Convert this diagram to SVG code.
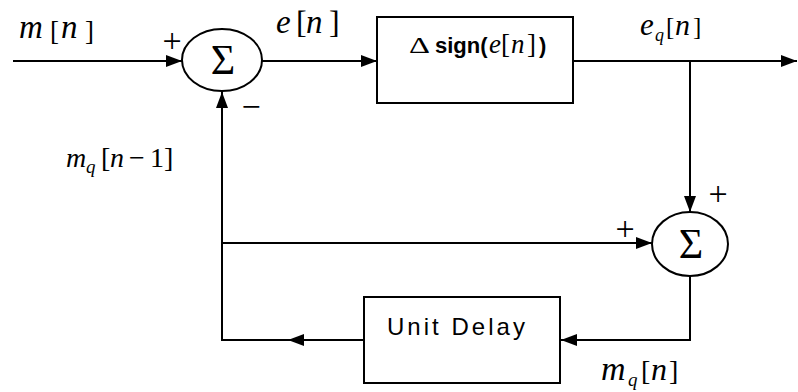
<svg xmlns="http://www.w3.org/2000/svg" width="798" height="392" viewBox="0 0 798 392">
<style>
.ln{stroke:#000;stroke-width:2;fill:none}
.bx{stroke:#000;stroke-width:2;fill:#fff}
text,tspan{fill:#000}
.s{font-family:'Liberation Serif','Times New Roman',serif}
.i{font-style:italic}
.sg{font-family:'Liberation Serif','Times New Roman',serif;font-size:42px}
.pm{font-family:'Liberation Serif','Times New Roman',serif;font-size:34px}
.sn{font-family:'Liberation Sans',Arial,sans-serif;font-size:22px;font-weight:bold}
.ud{font-family:'Liberation Sans',Arial,sans-serif;font-size:24px}
</style>
<defs>
<marker id="ar" viewBox="0 0 16 12" refX="16" refY="6" markerWidth="16" markerHeight="12" markerUnits="userSpaceOnUse" orient="auto">
<path d="M0,0 L16,6 L0,12 Z" fill="#000"/>
</marker>
</defs>
<g id="connectors">
<path class="ln" d="M13,61 H182" marker-end="url(#ar)"/>
<path class="ln" d="M262,61 H377" marker-end="url(#ar)"/>
<path class="ln" d="M573,61 H797" marker-end="url(#ar)"/>
<path class="ln" d="M690,61 V212" marker-end="url(#ar)"/>
<path class="ln" d="M222,243 H652" marker-end="url(#ar)"/>
<path class="ln" d="M690,276 V340 H561" marker-end="url(#ar)"/>
<path class="ln" d="M364,340 H288" marker-end="url(#ar)"/>
<path class="ln" d="M290,340 H222 V92" marker-end="url(#ar)"/>
</g>
<g id="sum1">
<ellipse class="bx" cx="222" cy="60" rx="40" ry="31"/>
<text class="sg" x="223" y="74" text-anchor="middle">Σ</text>
<text class="pm" x="172" y="52" text-anchor="middle">+</text>
<text class="pm" x="251" y="118" text-anchor="middle">−</text>
</g>
<g id="sign">
<rect class="bx" x="377" y="17" width="196" height="86"/>
<text y="53"><tspan class="s" x="409" font-size="23" textLength="21" lengthAdjust="spacingAndGlyphs">Δ</tspan><tspan class="sn" x="435">sign(</tspan><tspan class="s i" x="489" font-size="27">e</tspan><tspan class="s" x="501" font-size="27">[</tspan><tspan class="s i" x="511" font-size="27">n</tspan><tspan class="s" x="527" font-size="27">]</tspan><tspan class="sn" x="539">)</tspan></text>
</g>
<g id="sum2">
<ellipse class="bx" cx="690" cy="244" rx="38" ry="32"/>
<text class="sg" x="691" y="258" text-anchor="middle">Σ</text>
<text class="pm" x="718" y="205" text-anchor="middle">+</text>
<text class="pm" x="625" y="240" text-anchor="middle">+</text>
</g>
<g id="delay">
<rect class="bx" x="364" y="297" width="196" height="86"/>
<text class="ud" x="387" y="335" textLength="138">Unit Delay</text>
</g>
<g id="labels">
<text class="s"><tspan class="i" x="19" y="38" font-size="33">m</tspan><tspan x="50" y="40" font-size="27">[</tspan><tspan class="i" x="61" y="38" font-size="33">n</tspan><tspan x="85" y="40" font-size="27">]</tspan></text>
<text class="s"><tspan class="i" x="276" y="33" font-size="33">e</tspan><tspan x="296" y="33" font-size="32">[</tspan><tspan class="i" x="306" y="33" font-size="33">n</tspan><tspan x="329" y="33" font-size="32">]</tspan></text>
<text class="s"><tspan class="i" x="640" y="35" font-size="31">e</tspan><tspan class="i" x="655" y="41" font-size="18">q</tspan><tspan x="666" y="35" font-size="25">[</tspan><tspan class="i" x="675" y="35" font-size="30">n</tspan><tspan x="693" y="35" font-size="25">]</tspan></text>
<text class="s" font-size="28"><tspan class="i" x="66" y="167">m</tspan><tspan class="i" x="86" y="173" font-size="19">q</tspan><tspan x="101" y="167">[</tspan><tspan class="i" x="110" y="167">n</tspan><tspan x="129" y="167">−</tspan><tspan x="150" y="167">1</tspan><tspan x="164" y="167">]</tspan></text>
<text class="s" font-size="32"><tspan class="i" x="601" y="380" font-size="34">m</tspan><tspan class="i" x="628" y="386" font-size="19">q</tspan><tspan x="641" y="380" font-size="28">[</tspan><tspan class="i" x="651" y="380">n</tspan><tspan x="669" y="380" font-size="28">]</tspan></text>
</g>
</svg>
